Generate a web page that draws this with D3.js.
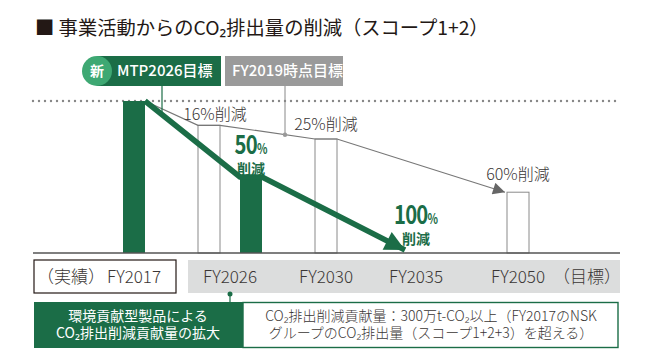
<!DOCTYPE html>
<html>
<head>
<meta charset="utf-8">
<script src="https://cdn.jsdelivr.net/npm/d3@7"></script>
<style>
    body { margin: 0; background: #fff; }
    svg { display: block; font-family: "Noto Sans CJK JP", "Noto Sans", sans-serif; }
</style>
</head>
<body>
<svg width="648" height="361"></svg>
<script>
// years on the axis
var years = ["FY2017", "FY2026", "FY2030", "FY2035", "FY2050"]

// FY2017 actual (index = 100)
var base_year = "FY2017"
var base_value = 100

// FY2019 targets (grey bars)
var old_years = ["FY2026", "FY2030", "FY2050"]
var old_values = [84, 75, 40]
var old_labels = ["16%削減", "25%削減", "60%削減"]

// MTP2026 targets (green)
var new_years = ["FY2026", "FY2035"]
var new_values = [50, 0]
var new_pcts = ["50", "100"]

var green = "#1b6d47",
    light_green = "#3ea873",
    grey = "#9a9a9a",
    text_col = "#3a3635"

var svg = d3.select("svg")

var x = d3.scalePoint()
    .domain(years)
    .range([134, 518])

var y = d3.scaleLinear()
    .domain([0, 100])
    .range([253, 101])

var bar_w = 22

// offset inside a year when two bars share it
function old_x(yr) { return x(yr) + (yr == "FY2026" ? -21 : 0) }
function new_x(yr) { return x(yr) + (yr == "FY2026" ? 21 : 0) }

function draw_title() {
    svg.append("text")
        .attr("x", 35)
        .attr("y", 35)
        .attr("font-size", 19.3)
        .attr("fill", "#231815")
        .text("■ 事業活動からのCO₂排出量の削減（スコープ1+2）")

    // badges
    svg.append("rect")
        .attr("x", 97).attr("y", 56)
        .attr("width", 124).attr("height", 30)
        .attr("fill", green)
    svg.append("circle")
        .attr("cx", 97).attr("cy", 71).attr("r", 15)
        .attr("fill", light_green)
    svg.append("text")
        .attr("x", 97).attr("y", 76)
        .attr("text-anchor", "middle")
        .attr("font-size", 14).attr("font-weight", "bold")
        .attr("fill", "#fff")
        .text("新")
    svg.append("text")
        .attr("x", 117).attr("y", 76)
        .attr("font-size", 15).attr("font-weight", 500)
        .attr("fill", "#fff")
        .text("MTP2026目標")

    svg.append("rect")
        .attr("x", 225).attr("y", 56)
        .attr("width", 118).attr("height", 30)
        .attr("fill", grey)
    svg.append("text")
        .attr("x", 232).attr("y", 76)
        .attr("font-size", 15).attr("font-weight", 500)
        .attr("fill", "#fff")
        .text("FY2019時点目標")
}

function draw_bars() {
    // dotted reference line at FY2017 level
    svg.append("line")
        .attr("x1", 33).attr("x2", 620)
        .attr("y1", y(base_value)).attr("y2", y(base_value))
        .attr("stroke", "#888")
        .attr("stroke-width", 2.4)
        .attr("stroke-linecap", "round")
        .attr("stroke-dasharray", "0,6")

    // grey target bars
    svg.selectAll(".old_bar")
        .data(old_years)
        .enter().append("rect")
        .attr("class", "old_bar")
        .attr("x", function (d) { return old_x(d) - bar_w / 2 })
        .attr("y", function (d, i) { return y(old_values[i]) })
        .attr("width", bar_w)
        .attr("height", function (d, i) { return y(0) - y(old_values[i]) })
        .attr("fill", "#fff")
        .attr("stroke", "#8a8a8a")
        .attr("stroke-width", 1)

    // green bars: actual + FY2026 new target
    var green_bars = [{ yr: base_year, v: base_value, cx: x(base_year) },
                      { yr: new_years[0], v: new_values[0], cx: new_x(new_years[0]) }]
    svg.selectAll(".green_bar")
        .data(green_bars)
        .enter().append("rect")
        .attr("class", "green_bar")
        .attr("x", function (d) { return d.cx - bar_w / 2 })
        .attr("y", function (d) { return y(d.v) })
        .attr("width", bar_w)
        .attr("height", function (d) { return y(0) - y(d.v) })
        .attr("fill", green)

    // baseline
    svg.append("line")
        .attr("x1", 33).attr("x2", 620)
        .attr("y1", y(0)).attr("y2", y(0))
        .attr("stroke", "#555")
        .attr("stroke-width", 1.5)
}

function draw_paths() {
    var defs = svg.append("defs")
    defs.append("marker")
        .attr("id", "grey_arrow")
        .attr("viewBox", "0 0 10 10")
        .attr("refX", 10).attr("refY", 5)
        .attr("markerUnits", "userSpaceOnUse")
        .attr("markerWidth", 14).attr("markerHeight", 12)
        .attr("orient", "auto")
        .append("path").attr("d", "M0,0L10,5L0,10Z").attr("fill", "#666")
    defs.append("marker")
        .attr("id", "green_arrow")
        .attr("viewBox", "0 0 10 10")
        .attr("refX", 10).attr("refY", 5)
        .attr("markerUnits", "userSpaceOnUse")
        .attr("markerWidth", 24).attr("markerHeight", 20)
        .attr("orient", "auto")
        .append("path").attr("d", "M0,0L10,5L0,10Z").attr("fill", green)

    var line = d3.line()

    // grey FY2019 target path
    var start = [x(base_year) + bar_w / 2, y(base_value)]
    var g_pts = [start]
    old_years.forEach(function (yr, i) {
        var cx = old_x(yr), cy = y(old_values[i])
        if (i < old_years.length - 1) {
            g_pts.push([cx - bar_w / 2, cy])
            g_pts.push([cx + bar_w / 2, cy])
        } else {
            g_pts.push([cx - bar_w / 2 - 2, cy])
        }
    })
    svg.append("path")
        .attr("d", line(g_pts))
        .attr("fill", "none")
        .attr("stroke", "#777")
        .attr("stroke-width", 1.2)
        .attr("marker-end", "url(#grey_arrow)")

    // green MTP2026 path
    var n_pts = [start,
        [new_x(new_years[0]) - bar_w / 2, y(new_values[0])],
        [new_x(new_years[0]) + bar_w / 2, y(new_values[0])],
        [x(new_years[1]) - 17, y(new_values[1]) - 3]]
    svg.append("path")
        .attr("d", line(n_pts))
        .attr("fill", "none")
        .attr("stroke", green)
        .attr("stroke-width", 5.5)
        .attr("stroke-linejoin", "round")
        .attr("marker-end", "url(#green_arrow)")

    // connectors from badges
    var t = (162 - start[0]) / (n_pts[1][0] - start[0])
    svg.append("line")
        .attr("x1", 162).attr("x2", 162)
        .attr("y1", 86).attr("y2", start[1] + t * (n_pts[1][1] - start[1]))
        .attr("stroke", green).attr("stroke-width", 1.2)

    var a = g_pts[2], b = g_pts[3]
    var gy = a[1] + (285 - a[0]) / (b[0] - a[0]) * (b[1] - a[1])
    svg.append("line")
        .attr("x1", 285).attr("x2", 285)
        .attr("y1", 86).attr("y2", gy)
        .attr("stroke", "#888").attr("stroke-width", 1)
    svg.append("circle")
        .attr("cx", 285).attr("cy", gy).attr("r", 2.2)
        .attr("fill", "#999")
}

function draw_labels() {
    var label_dx = [6, 0, 0], label_dy = [-5, -9, -12]
    svg.selectAll(".old_label")
        .data(old_labels)
        .enter().append("text")
        .attr("class", "old_label")
        .attr("x", function (d, i) { return old_x(old_years[i]) + label_dx[i] })
        .attr("y", function (d, i) { return y(old_values[i]) + label_dy[i] })
        .attr("text-anchor", "middle")
        .attr("font-size", 16)
        .attr("font-weight", 300)
        .attr("fill", text_col)
        .text(function (d) { return d })

    // big green % labels
    var pos = [[new_x(new_years[0]), 154], [x(new_years[1]) - 6, 224]]
    new_pcts.forEach(function (p, i) {
        var g = svg.append("g")
            .attr("transform", "translate(" + pos[i][0] + "," + pos[i][1] + ")")
        var t = g.append("text")
            .attr("text-anchor", "middle")
            .attr("transform", "scale(0.78,1)")
            .attr("fill", green)
            .attr("font-weight", "bold")
        t.append("tspan").attr("font-size", 26).attr("letter-spacing", -1).text(p)
        t.append("tspan").attr("font-size", 14).text("%")
        g.append("text")
            .attr("y", 20)
            .attr("text-anchor", "middle")
            .attr("font-size", 14)
            .attr("font-weight", "bold")
            .attr("fill", green)
            .text("削減")
    })
}

function draw_axis() {
    svg.append("rect")
        .attr("x", 34).attr("y", 260)
        .attr("width", 142).attr("height", 33)
        .attr("fill", "#fff")
        .attr("stroke", "#231815")
        .attr("stroke-width", 1.2)
    svg.append("rect")
        .attr("x", 188).attr("y", 260)
        .attr("width", 432).attr("height", 33)
        .attr("fill", "#dcdddd")

    svg.append("text")
        .attr("x", 37).attr("y", 283)
        .attr("font-size", 17).attr("font-weight", 300).attr("fill", text_col)
        .text("（実績）")

    svg.selectAll(".year_label")
        .data(years)
        .enter().append("text")
        .attr("class", "year_label")
        .attr("x", function (d) { return d == "FY2035" ? x(d) - 6 : x(d) })
        .attr("y", 283)
        .attr("text-anchor", "middle")
        .attr("font-size", 17)
        .attr("font-weight", 300)
        .attr("fill", text_col)
        .text(function (d) { return d })

    svg.append("text")
        .attr("x", 587).attr("y", 283)
        .attr("text-anchor", "middle")
        .attr("font-size", 17).attr("font-weight", 300).attr("fill", text_col)
        .text("（目標）")

    // link FY2026 to the contribution box
    svg.append("line")
        .attr("x1", 230).attr("x2", 230)
        .attr("y1", 294).attr("y2", 302)
        .attr("stroke", green).attr("stroke-width", 1.2)
    svg.append("circle")
        .attr("cx", 230).attr("cy", 294).attr("r", 2.5)
        .attr("fill", green)
}

function draw_boxes() {
    svg.append("rect")
        .attr("x", 34).attr("y", 302)
        .attr("width", 209).attr("height", 46)
        .attr("fill", green)
    svg.append("rect")
        .attr("x", 243).attr("y", 302.5)
        .attr("width", 375).attr("height", 45)
        .attr("fill", "#fff")
        .attr("stroke", green)
        .attr("stroke-width", 1.4)

    var left = ["環境貢献型製品による", "CO₂排出削減貢献量の拡大"]
    var right = ["CO₂排出削減貢献量：300万t-CO₂以上（FY2017のNSK",
                 "グループのCO₂排出量（スコープ1+2+3）を超える）"]
    svg.selectAll(".left_txt")
        .data(left)
        .enter().append("text")
        .attr("x", 138)
        .attr("y", function (d, i) { return 321 + i * 17 })
        .attr("text-anchor", "middle")
        .attr("font-size", 14)
        .attr("fill", "#fff")
        .text(function (d) { return d })
    svg.selectAll(".right_txt")
        .data(right)
        .enter().append("text")
        .attr("x", 431)
        .attr("y", function (d, i) { return 321 + i * 17 })
        .attr("text-anchor", "middle")
        .attr("font-size", 14)
        .attr("font-weight", 300)
        .attr("fill", text_col)
        .text(function (d) { return d })
}

draw_title()
draw_bars()
draw_paths()
draw_labels()
draw_axis()
draw_boxes()
</script>
</body>
</html>
